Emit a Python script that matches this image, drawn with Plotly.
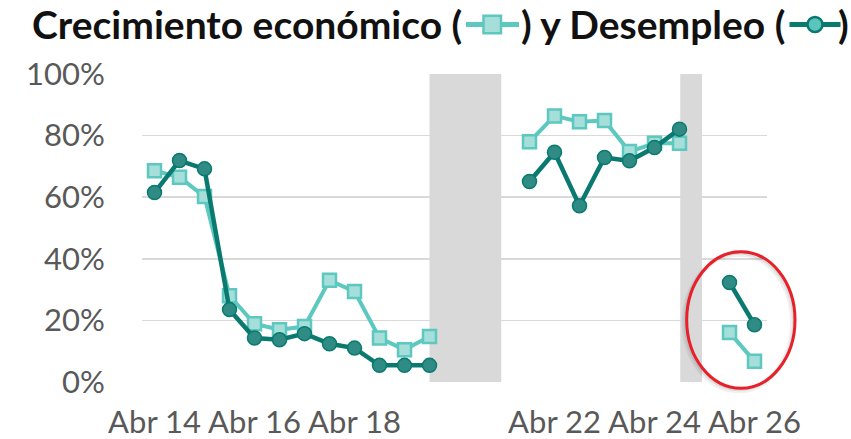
import plotly.graph_objects as go

# ---------------- data ----------------
periods = ["Abr 14", "Oct 14", "Abr 15", "Oct 15", "Abr 16", "Oct 16", "Abr 17", "Oct 17",
           "Abr 18", "Oct 18", "Abr 19", "Oct 19", "Abr 20", "Oct 20", "Abr 21", "Oct 21",
           "Abr 22", "Oct 22", "Abr 23", "Oct 23", "Abr 24", "Oct 24", "Abr 25", "Oct 25",
           "Abr 26"]
tick_labels = ["Abr 14", "Abr 16", "Abr 18", "Abr 22", "Abr 24", "Abr 26"]

crecimiento = [68.6, 66.5, 60.2, 28.0, 18.9, 17.0, 18.0, 33.0, 29.4, 14.3, 10.5, 14.8,
               None, None, None,
               78.0, 86.4, 84.5, 84.9, 74.8, 77.5, 77.5,
               None,
               16.1, 6.7]
desempleo = [61.5, 71.9, 69.2, 23.5, 14.3, 13.7, 15.7, 12.4, 11.0, 5.4, 5.4, 5.4,
             None, None, None,
             65.1, 74.6, 57.2, 72.9, 71.8, 76.1, 82.1,
             None,
             32.3, 18.6]
# shaded gaps (in period index units)
gap_bands = [(11.0, 13.87), (21.03, 21.9)]

# ---------------- styling ----------------
W, H = 851, 439
ML, MR, MT, MB = 142, 84, 74, 57
PW, PH = W - ML - MR, H - MT - MB

C_LIGHT_LINE = "#5cc8bf"
C_LIGHT_FILL = "#a6dfda"
C_DARK_LINE = "#0a7a70"
C_DARK_FILL = "#2f8b84"
GRID = "#d9d9d9"
TXT = "#595959"
FONT = "Lato"

def px(x):
    return (x - ML) / PW

def py(y):
    return 1 - (y - MT) / PH

x_idx = list(range(len(periods)))

fig = go.Figure()
fig.add_trace(go.Scatter(
    x=x_idx, y=crecimiento, mode="lines+markers", name="Crecimiento económico",
    line=dict(color=C_LIGHT_LINE, width=4),
    marker=dict(symbol="square", size=13, color=C_LIGHT_FILL,
                line=dict(color=C_LIGHT_LINE, width=2.5)),
    connectgaps=False, cliponaxis=False))
fig.add_trace(go.Scatter(
    x=x_idx, y=desempleo, mode="lines+markers", name="Desempleo",
    line=dict(color=C_DARK_LINE, width=4.5),
    marker=dict(symbol="circle", size=14, color=C_DARK_FILL,
                line=dict(color=C_DARK_LINE, width=1.5)),
    connectgaps=False, cliponaxis=False))

shapes = []
for a, b in gap_bands:
    shapes.append(dict(type="rect", xref="x", yref="y", x0=a, x1=b, y0=0, y1=100,
                       fillcolor=GRID, line=dict(width=0), layer="between"))

# red ellipse with soft shadow
ex0, ex1, ey0, ey1 = 686.7, 795, 251.7, 388.3
for off, col, w in [(2.5, "rgba(0,0,0,0.06)", 5), (1.5, "rgba(0,0,0,0.08)", 3)]:
    shapes.append(dict(type="circle", xref="paper", yref="paper",
                       x0=px(ex0 - off), x1=px(ex1 - off), y0=py(ey1 + off), y1=py(ey0 + off),
                       line=dict(color=col, width=w)))
shapes.append(dict(type="circle", xref="paper", yref="paper",
                   x0=px(ex0), x1=px(ex1), y0=py(ey1), y1=py(ey0),
                   line=dict(color="#e8202a", width=3)))

# title legend icons
icon_y = 24.5
# icon 1: line + square
shapes.append(dict(type="line", xref="paper", yref="paper",
                   x0=px(466), x1=px(519), y0=py(icon_y), y1=py(icon_y),
                   line=dict(color=C_LIGHT_LINE, width=5)))
shapes.append(dict(type="rect", xref="paper", yref="paper",
                   x0=px(483.5), x1=px(501), y0=py(icon_y + 8.8), y1=py(icon_y - 8.7),
                   fillcolor=C_LIGHT_FILL, line=dict(color=C_LIGHT_LINE, width=2.5)))
# icon 2: line + circle
shapes.append(dict(type="line", xref="paper", yref="paper",
                   x0=px(789.5), x1=px(840.5), y0=py(icon_y), y1=py(icon_y),
                   line=dict(color=C_DARK_LINE, width=5)))
shapes.append(dict(type="circle", xref="paper", yref="paper",
                   x0=px(807.5), x1=px(822.5), y0=py(icon_y + 7.5), y1=py(icon_y - 7.5),
                   fillcolor="#5bc4bc", line=dict(color=C_DARK_LINE, width=2.5)))

tfont = dict(family=FONT, size=39, color="#111111", weight="bold")
ty = py(24)
annotations = [
    dict(text="<b>Crecimiento económico (</b>", xref="paper", yref="paper",
         x=px(464), y=ty, xanchor="right", yanchor="middle", showarrow=False, font=tfont),
    dict(text="<b>) y Desempleo (</b>", xref="paper", yref="paper",
         x=px(519), y=ty, xanchor="left", yanchor="middle", showarrow=False, font=tfont),
    dict(text="<b>)</b>", xref="paper", yref="paper",
         x=px(851), y=ty, xanchor="right", yanchor="middle", showarrow=False, font=tfont),
]

fig.update_layout(
    width=W, height=H,
    margin=dict(l=ML, r=MR, t=MT, b=MB, autoexpand=False),
    paper_bgcolor="white", plot_bgcolor="white",
    showlegend=False,
    shapes=shapes, annotations=annotations,
    font=dict(family=FONT, color=TXT, size=31),
    xaxis=dict(range=[-0.5, len(periods) - 0.5], automargin=False,
               tickvals=[periods.index(t) for t in tick_labels], ticktext=tick_labels,
               showgrid=False, zeroline=False, showline=False,
               ticks="outside", ticklen=0, ticklabelstandoff=13,
               tickfont=dict(family=FONT, size=31, color=TXT)),
    yaxis=dict(range=[0, 100], dtick=20, ticksuffix="%", automargin=False,
               showgrid=True, gridcolor=GRID, gridwidth=1.5,
               zeroline=False, showline=False,
               ticks="outside", ticklen=0, ticklabelstandoff=30,
               tickfont=dict(family=FONT, size=31, color=TXT)),
)

fig.write_html("out.html", config={"displayModeBar": False, "staticPlot": True},
               post_script="document.body.style.margin='0';document.body.style.overflow='hidden';")
